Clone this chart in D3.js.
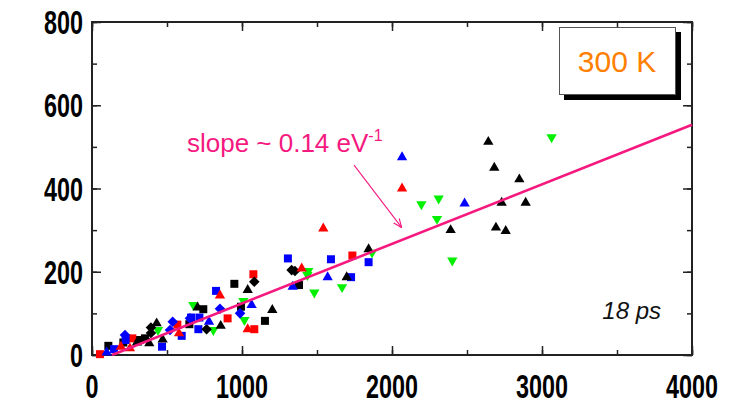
<!DOCTYPE html>
<html><head><meta charset="utf-8">
<script src="https://cdn.jsdelivr.net/npm/d3@7"></script>
<style>body{margin:0;background:#fff}svg{display:block}</style>
</head><body>
<svg id="c" width="746" height="404"></svg>
<script>
// ---- data ----
const xTicks = [0, 1000, 2000, 3000, 4000];
const yTicks = [0, 200, 400, 600, 800];
const blackTriangles = [[2642,512],[2682,450],[2849,422],[2731,366],[2891,366],[2693,306],[2758,298],[2391,300],[1844,254],[1698,187],[1202,108],[1038,156],[858,70],[704,114],[431,76],[382,28],[471,37],[300,30]];
const blackSquares = [[1380,168],[949,171],[993,116],[1153,82],[742,110],[649,74],[353,40],[320,36],[109,22],[209,30]];
const blackDiamonds = [[1331,204],[1353,202],[1082,176],[764,62],[393,66],[393,53]];
const redTriangles = [[2067,400],[1542,304],[1398,208],[853,143],[1038,62],[580,52],[193,20],[253,16]];
const redSquares = [[1736,239],[1076,194],[904,88],[1082,62],[569,73],[269,40],[53,2]];
const blueTriangles = [[2067,475],[2484,364],[1571,187],[1338,164],[1064,120],[780,80],[98,6]];
const blueSquares = [[1306,232],[1593,230],[1727,187],[1844,223],[827,154],[709,62],[660,90],[716,90],[598,46],[467,20],[224,36],[147,14]];
const blueDiamonds = [[853,111],[987,100],[653,88],[538,80],[520,60],[220,48]];
const greenDown = [[3064,523],[2196,362],[2311,376],[2300,327],[2402,227],[1867,246],[1442,202],[1436,192],[1482,150],[1667,163],[1009,130],[1016,84],[676,120],[809,60],[440,60]];
const fitX = [133, 4000];
const fitY = [0, 553];
const arrowFrom = [1747, 456];
const arrowTo = [2065, 306];
const labelPos = [633, 488];
const tempLabel = "300 K";
const timeLabel = "18 ps";

// ---- chart ----
const svg = d3.select("#c");
const x = d3.scaleLinear().domain([0, 4000]).range([92, 692]);
const y = d3.scaleLinear().domain([0, 800]).range([355, 22]);
const axisColor = "#222";
const tickFont = "'Liberation Sans', Arial, Helvetica, sans-serif";

function styleAxis(g){ g.select(".domain").remove(); g.selectAll("line").attr("stroke", axisColor).attr("stroke-width", 1.5); g.selectAll("text").remove(); }
const minorX = d3.range(0, 4001, 500), majorX = xTicks;
const minorY = d3.range(0, 801, 100), majorY = yTicks;
svg.append("g").attr("transform", "translate(0,355)").call(d3.axisBottom(x).tickValues(minorX).tickSize(-5)).call(styleAxis);
svg.append("g").attr("transform", "translate(0,355)").call(d3.axisBottom(x).tickValues(majorX).tickSize(-9)).call(styleAxis);
svg.append("g").attr("transform", "translate(0,22)").call(d3.axisTop(x).tickValues(minorX).tickSize(-5)).call(styleAxis);
svg.append("g").attr("transform", "translate(0,22)").call(d3.axisTop(x).tickValues(majorX).tickSize(-9)).call(styleAxis);
svg.append("g").attr("transform", "translate(92,0)").call(d3.axisLeft(y).tickValues(minorY).tickSize(-5)).call(styleAxis);
svg.append("g").attr("transform", "translate(92,0)").call(d3.axisLeft(y).tickValues(majorY).tickSize(-9)).call(styleAxis);
svg.append("g").attr("transform", "translate(692,0)").call(d3.axisRight(y).tickValues(minorY).tickSize(-5)).call(styleAxis);
svg.append("g").attr("transform", "translate(692,0)").call(d3.axisRight(y).tickValues(majorY).tickSize(-9)).call(styleAxis);

svg.append("rect").attr("x", x(0)).attr("y", y(800)).attr("width", x(4000) - x(0)).attr("height", y(0) - y(800))
  .attr("fill", "none").attr("stroke", axisColor).attr("stroke-width", 2);

svg.append("g").selectAll("text").data(xTicks).join("text")
  .attr("transform", d => `translate(${x(d)},398) scale(0.9,1.3)`)
  .attr("text-anchor", "middle").attr("font-family", tickFont).attr("font-weight", "bold").attr("font-size", 26)
  .text(d => d);
svg.append("g").selectAll("text").data(yTicks).join("text")
  .attr("transform", d => `translate(83,${y(d) + 12}) scale(0.9,1.3)`)
  .attr("text-anchor", "end").attr("font-family", tickFont).attr("font-weight", "bold").attr("font-size", 26)
  .text(d => d);

const sq = d3.symbol().type(d3.symbolSquare).size(64)();
const dia = d3.symbol().type(d3.symbolSquare).size(56)();
const tri = d3.symbol().type(d3.symbolTriangle).size(46)();
function drawSeries(data, path, color, rot){
  svg.append("g").selectAll("path").data(data).join("path")
    .attr("d", path).attr("fill", color)
    .attr("transform", d => `translate(${x(d[0])},${y(d[1])}) rotate(${rot})`);
}
drawSeries(greenDown, tri, "#00f000", 180);
drawSeries(blackSquares, sq, "#000", 0);
drawSeries(redSquares, sq, "#ff0000", 0);
drawSeries(blueSquares, sq, "#0000ff", 0);
drawSeries(blackDiamonds, dia, "#000", 45);
drawSeries(blueDiamonds, dia, "#0000ff", 45);
drawSeries(blackTriangles, tri, "#000", 0);
drawSeries(redTriangles, tri, "#ff0000", 0);
drawSeries(blueTriangles, tri, "#0000ff", 0);

const pink = "#f5197f";
svg.append("path").datum(d3.zip(fitX, fitY))
  .attr("d", d3.line().x(d => x(d[0])).y(d => y(d[1])))
  .attr("stroke", pink).attr("stroke-width", 2.6).attr("fill", "none");

svg.append("defs").append("marker").attr("id", "ah").attr("viewBox", "0 0 10 10")
  .attr("refX", 10).attr("refY", 5).attr("markerWidth", 9).attr("markerHeight", 9)
  .attr("markerUnits", "userSpaceOnUse").attr("orient", "auto")
  .append("path").attr("d", "M0,1 L10,5 L0,9").attr("fill", "none").attr("stroke", pink).attr("stroke-width", 1.3);
svg.append("line").attr("x1", x(arrowFrom[0])).attr("y1", y(arrowFrom[1]))
  .attr("x2", x(arrowTo[0])).attr("y2", y(arrowTo[1]))
  .attr("stroke", pink).attr("stroke-width", 1.1).attr("marker-end", "url(#ah)");

const ann = svg.append("text").attr("x", x(labelPos[0])).attr("y", y(labelPos[1]))
  .attr("font-family", tickFont).attr("font-size", 26).attr("fill", pink);
ann.append("tspan").text("slope ~ 0.14 eV");
ann.append("tspan").attr("dy", -11).attr("font-size", 16).text("-1");

svg.append("rect").attr("x", 564).attr("y", 32).attr("width", 117).attr("height", 68).attr("fill", "#000");
svg.append("rect").attr("x", 559.5).attr("y", 27.5).attr("width", 116).attr("height", 67).attr("fill", "#fff").attr("stroke", "#555").attr("stroke-width", 1);
svg.append("text").attr("x", 617).attr("y", 72).attr("text-anchor", "middle")
  .attr("font-family", tickFont).attr("font-size", 30).attr("fill", "#ff8000").text(tempLabel);

svg.append("text").attr("x", 661).attr("y", 319).attr("text-anchor", "end")
  .attr("font-family", tickFont).attr("font-style", "italic").attr("font-size", 24).attr("fill", "#111").text(timeLabel);
</script>
</body></html>
